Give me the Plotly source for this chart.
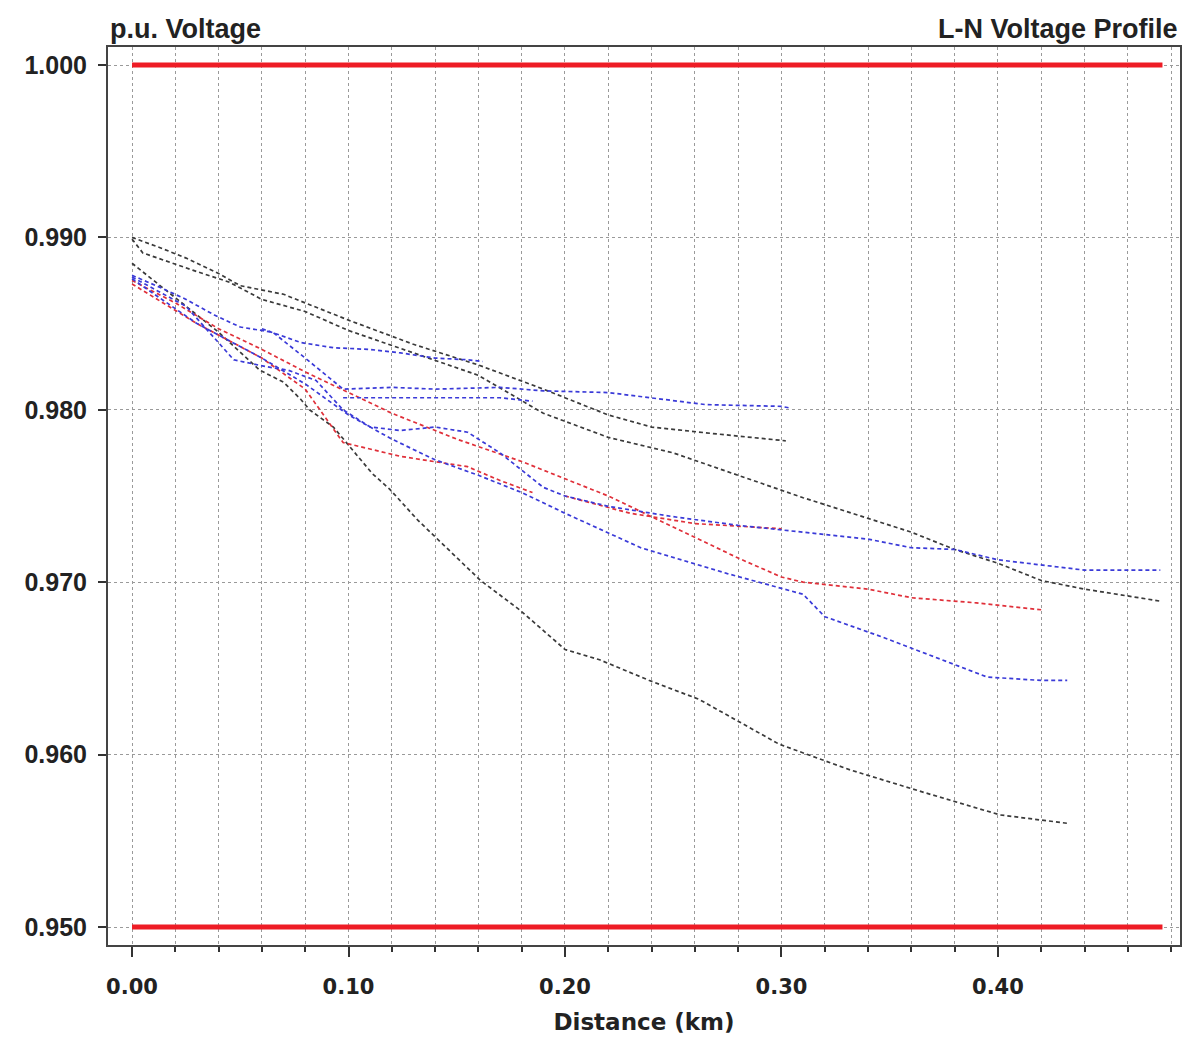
import plotly.graph_objects as go

# ---- data (distance km, p.u. voltage) ----
black_a_x = [0, 0.013, 0.025, 0.04, 0.05, 0.07, 0.10, 0.13, 0.16, 0.19, 0.22, 0.24, 0.27, 0.302]
black_a_y = [0.9900, 0.9894, 0.9888, 0.9879, 0.9872, 0.9867, 0.9852, 0.9838, 0.9826, 0.9812, 0.9797, 0.9790, 0.9786, 0.9782]

black_b_x = [0, 0.005, 0.028, 0.045, 0.06, 0.08, 0.10, 0.13, 0.16, 0.19, 0.22, 0.25, 0.28, 0.31, 0.34, 0.36, 0.38, 0.40, 0.42, 0.44, 0.475]
black_b_y = [0.9899, 0.9891, 0.9881, 0.9874, 0.9864, 0.9857, 0.9846, 0.9833, 0.9820, 0.9798, 0.9784, 0.9775, 0.9762, 0.9749, 0.9737, 0.9729, 0.9719, 0.9711, 0.9701, 0.9696, 0.9689]

black_c_x = [0, 0.02, 0.04, 0.059, 0.070, 0.078, 0.082, 0.093, 0.101, 0.111, 0.119, 0.132, 0.161, 0.179, 0.20, 0.216, 0.239, 0.262, 0.299, 0.332, 0.366, 0.401, 0.433]
black_c_y = [0.9885, 0.9865, 0.9845, 0.9823, 0.9816, 0.9806, 0.9800, 0.9790, 0.9778, 0.9763, 0.9754, 0.9736, 0.9701, 0.9684, 0.9661, 0.9655, 0.9643, 0.9632, 0.9606, 0.9591, 0.9578, 0.9565, 0.9560]

red_a_x = [0, 0.02, 0.04, 0.06, 0.08, 0.10, 0.12, 0.15, 0.18, 0.20, 0.22, 0.24, 0.26, 0.28, 0.30, 0.31, 0.34, 0.36, 0.39, 0.42]
red_a_y = [0.9875, 0.9862, 0.9847, 0.9835, 0.9822, 0.9810, 0.9798, 0.9783, 0.9770, 0.9760, 0.9750, 0.9738, 0.9726, 0.9714, 0.9703, 0.9700, 0.9696, 0.9691, 0.9688, 0.9684]

red_b_x = [0, 0.03, 0.06, 0.08, 0.0975, 0.124, 0.155, 0.170, 0.185]
red_b_y = [0.9873, 0.9850, 0.9830, 0.9812, 0.9781, 0.9773, 0.9767, 0.9759, 0.9752]

red_c_x = [0.20, 0.23, 0.26, 0.30]
red_c_y = [0.9750, 0.9740, 0.9734, 0.9731]

blue_a_x = [0, 0.013, 0.025, 0.038, 0.05, 0.065, 0.08, 0.0975, 0.12, 0.14, 0.17, 0.19, 0.22, 0.24, 0.265, 0.30, 0.304]
blue_a_y = [0.9878, 0.9871, 0.9864, 0.9855, 0.9848, 0.9845, 0.9830, 0.9812, 0.9813, 0.9812, 0.9813, 0.9811, 0.9810, 0.9807, 0.9803, 0.9802, 0.9801]

blue_b_x = [0, 0.025, 0.047, 0.062, 0.072, 0.085, 0.0975, 0.11, 0.124, 0.14, 0.155, 0.17, 0.19, 0.20, 0.22, 0.25, 0.28, 0.31, 0.34, 0.36, 0.38, 0.40, 0.42, 0.44, 0.475]
blue_b_y = [0.9877, 0.9860, 0.9829, 0.9825, 0.9823, 0.9817, 0.9800, 0.9790, 0.9788, 0.9790, 0.9787, 0.9775, 0.9755, 0.9750, 0.9744, 0.9738, 0.9733, 0.9729, 0.9725, 0.9720, 0.9719, 0.9713, 0.9710, 0.9707, 0.9707]

blue_c_x = [0, 0.03, 0.06, 0.08, 0.10, 0.12, 0.14, 0.16, 0.18, 0.20, 0.235, 0.275, 0.31, 0.32, 0.347, 0.37, 0.395, 0.42, 0.432]
blue_c_y = [0.9876, 0.9850, 0.9830, 0.9815, 0.9797, 0.9783, 0.9771, 0.9762, 0.9752, 0.9740, 0.9720, 0.9705, 0.9693, 0.9680, 0.9668, 0.9657, 0.9645, 0.9643, 0.9643]

blue_d_x = [0.06, 0.078, 0.093, 0.11, 0.124, 0.14, 0.155, 0.162]
blue_d_y = [0.9847, 0.9839, 0.9836, 0.9835, 0.9833, 0.9830, 0.9829, 0.9828]

blue_e_x = [0.0975, 0.13, 0.17, 0.185]
blue_e_y = [0.9807, 0.9807, 0.9807, 0.9805]

limit_x = [0, 0.476]
upper_limit = [1.000, 1.000]
lower_limit = [0.950, 0.950]

x_tickvals = [0.0, 0.1, 0.2, 0.3, 0.4]
x_ticktext = ["0.00", "0.10", "0.20", "0.30", "0.40"]
y_tickvals = [0.95, 0.96, 0.97, 0.98, 0.99, 1.00]
y_ticktext = ["0.950", "0.960", "0.970", "0.980", "0.990", "1.000"]

BLACK = "#3a3a3a"
RED = "#e0303a"
BLUE = "#3a3ad8"

fig = go.Figure()

series = [
    (black_a_x, black_a_y, BLACK), (black_b_x, black_b_y, BLACK), (black_c_x, black_c_y, BLACK),
    (red_a_x, red_a_y, RED), (red_b_x, red_b_y, RED), (red_c_x, red_c_y, RED),
    (blue_a_x, blue_a_y, BLUE), (blue_b_x, blue_b_y, BLUE), (blue_c_x, blue_c_y, BLUE),
    (blue_d_x, blue_d_y, BLUE), (blue_e_x, blue_e_y, BLUE),
]
for xs, ys, c in series:
    fig.add_trace(go.Scatter(x=xs, y=ys, mode="lines",
                             line=dict(color=c, width=1.7, dash="4px,3px"),
                             showlegend=False, hoverinfo="skip"))

for ys in (upper_limit, lower_limit):
    fig.add_trace(go.Scatter(x=limit_x, y=ys, mode="lines",
                             line=dict(color="#ee1c25", width=5),
                             showlegend=False, hoverinfo="skip"))

font_main = "Liberation Sans, Arial, sans-serif"

fig.update_layout(
    width=1198, height=1044,
    margin=dict(l=108, r=18, t=47, b=99),
    paper_bgcolor="white", plot_bgcolor="white",
    font=dict(family=font_main, size=20, color="#222"),
)

fig.update_xaxes(
    range=[-0.0111, 0.4841],
    tickvals=x_tickvals, ticktext=x_ticktext,
    ticks="outside", ticklen=10, tickwidth=1.5, tickcolor="#333",
    ticklabelstandoff=12,
    tickfont=dict(family="DejaVu Sans, sans-serif", size=21, color="#222", weight="bold"),
    showgrid=True, gridcolor="#9a9a9a", griddash="dot", gridwidth=1.3,
    minor=dict(dtick=0.02, tick0=0, ticks="outside", ticklen=5, tickcolor="#333",
               showgrid=True, gridcolor="#9a9a9a", griddash="dot", gridwidth=1.3),
    showline=True, linecolor="#444", linewidth=2, mirror=True,
    zeroline=False,
    title=dict(text="Distance (km)", standoff=16,
               font=dict(family="DejaVu Sans, sans-serif", size=23, color="#222", weight="bold")),
)
fig.update_yaxes(
    range=[0.948956, 1.001044],
    tickvals=y_tickvals, ticktext=y_ticktext,
    ticks="outside", ticklen=8, tickwidth=1.5, tickcolor="#333",
    ticklabelstandoff=6,
    tickfont=dict(family=font_main, size=25, color="#222", weight="bold"),
    showgrid=True, gridcolor="#9a9a9a", griddash="dot", gridwidth=1.3,
    showline=True, linecolor="#444", linewidth=2, mirror=True,
    zeroline=False,
)

fig.add_annotation(text="p.u. Voltage", xref="paper", yref="paper", x=0.0, y=1.0,
                   xanchor="left", yanchor="bottom", yshift=1, showarrow=False,
                   font=dict(family=font_main, size=27, color="#222", weight="bold"))
fig.add_annotation(text="L-N Voltage Profile", xref="paper", yref="paper", x=1.0, y=1.0,
                   xanchor="right", yanchor="bottom", yshift=1, showarrow=False,
                   font=dict(family=font_main, size=27, color="#222", weight="bold"))

fig.write_html("out.html")
